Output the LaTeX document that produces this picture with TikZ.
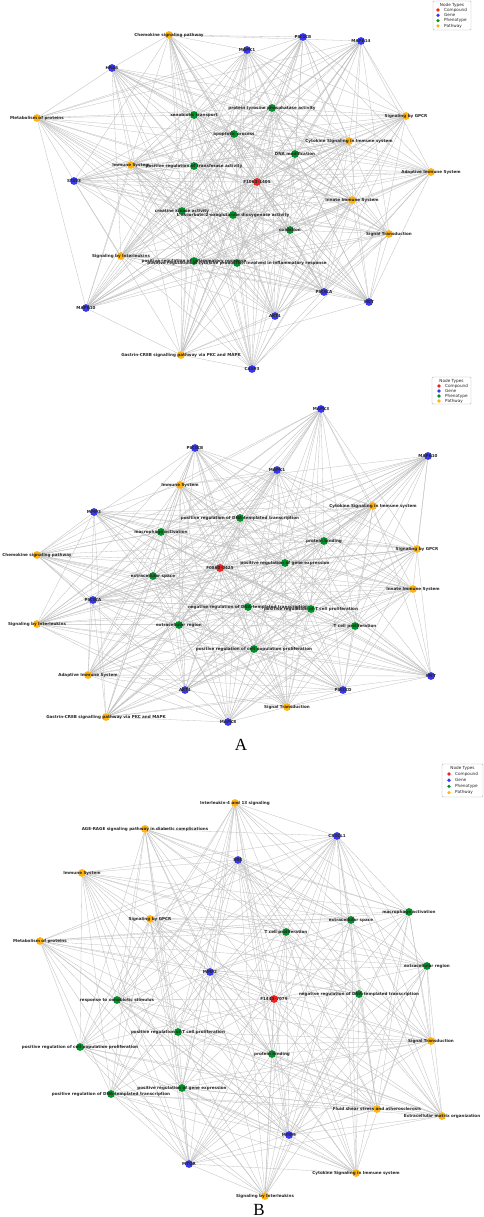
\documentclass[tikz,border=0pt]{standalone}
\usepackage{fontspec}
\newfontfamily\lblfont{DejaVu Sans}
\newfontfamily\capfont{Liberation Serif}
\pgfdeclarelayer{edges}
\pgfdeclarelayer{labels}
\pgfsetlayers{edges,main,labels}
\definecolor{cred}{RGB}{235,35,35}
\definecolor{cblue}{RGB}{55,55,245}
\definecolor{cgreen}{RGB}{0,145,40}
\definecolor{corange}{RGB}{255,180,20}
\definecolor{cedge}{RGB}{190,190,190}
\tikzset{
  base/.style={circle,minimum size=7.8pt,inner sep=0pt,draw=none},
  cpd/.style={base,fill=cred},
  gene/.style={base,fill=cblue},
  phen/.style={base,fill=cgreen},
  pway/.style={base,fill=corange},
  lbl/.style={font=\lblfont\fontsize{4.1}{4.6}\selectfont\bfseries,text=black!85,inner sep=0pt},
  edge/.style={draw=cedge,line width=0.3pt},
  legbox/.style={draw=black!30,fill=white,rounded corners=1pt,line width=0.4pt},
  legtxt/.style={font=\lblfont\fontsize{4.2}{4.6}\selectfont,inner sep=0pt,anchor=west,text=black!85},
  legmark/.style={circle,minimum size=3.6pt,inner sep=0pt,draw=none},
  capl/.style={font=\capfont\fontsize{17}{17}\selectfont,inner sep=0pt}
}
\newcommand\nd[4]{\node[#1] (#2) at (#3) {};%
  \begin{pgfonlayer}{labels}\node[lbl] (#2l) at (#2.center) {#4};\end{pgfonlayer}}
\newcommand\links[2]{\begin{pgfonlayer}{edges}\foreach \a in {#1}{\foreach \b in {#2}{\draw[edge] (\a) -- (\b);}}\end{pgfonlayer}}
\newcommand\mylegend[9]{%
  \draw[legbox] (#2,#3) rectangle (#4,#5);
  \node[legtxt,anchor=center] (#1t) at ({(#2+#4)/2},{#3+4.2}) {Node Types};
  \node[legmark,fill=cred] (#1m1) at (#8,#6) {};
  \node[legtxt] (#1l1) at (#9,#6) {Compound};
  \node[legmark,fill=cblue] (#1m2) at (#8,{#6+#7}) {};
  \node[legtxt] (#1l2) at (#9,{#6+#7}) {Gene};
  \node[legmark,fill=cgreen] (#1m3) at (#8,{#6+2*#7}) {};
  \node[legtxt] (#1l3) at (#9,{#6+2*#7}) {Phenotype};
  \node[legmark,fill=corange] (#1m4) at (#8,{#6+3*#7}) {};
  \node[legtxt] (#1l4) at (#9,{#6+3*#7}) {Pathway};
}
\begin{document}
\begin{tikzpicture}[x=1pt,y=-1pt]
\useasboundingbox (0,0) rectangle (484,1217);
\begin{pgfonlayer}{edges}\fill[white] (0,0) rectangle (484,1217);\end{pgfonlayer}

% ================= TOP PANEL =================
\nd{cpd}{tC}{257,182}{F1063-1405}
\nd{gene}{tg1}{247,50}{MAPK1}
\nd{gene}{tg2}{303,37}{PIK3CB}
\nd{gene}{tg3}{361,41}{MAPK14}
\nd{gene}{tg4}{112,68}{HRAS}
\nd{gene}{tg5}{74,181}{STAT3}
\nd{gene}{tg6}{86,308}{MAPK10}
\nd{gene}{tg7}{324,292}{PIK3CA}
\nd{gene}{tg8}{369,302}{MET}
\nd{gene}{tg9}{275,316}{AKT1}
\nd{gene}{tg10}{252,369}{CASP3}
\nd{phen}{tp1}{194,115}{xenobiotic transport}
\nd{phen}{tp2}{234,134}{apoptotic process}
\nd{phen}{tp3}{272,108}{protein tyrosine phosphatase activity}
\nd{phen}{tp4}{194,166}{positive regulation of transferase activity}
\nd{phen}{tp5}{295,154}{DNA modification}
\nd{phen}{tp6}{182,211}{creatine kinase activity}
\nd{phen}{tp7}{233,215}{L-ascorbate:2-oxoglutarate dioxygenase activity}
\nd{phen}{tp8}{290,230}{oxidation}
\nd{phen}{tp9}{194,261}{positive regulation of inflammatory response}
\nd{phen}{tp10}{237,263}{positive regulation of cytokine production involved in inflammatory response}
\nd{pway}{tw1}{169,35}{Chemokine signaling pathway}
\nd{pway}{tw2}{37,118}{Metabolism of proteins}
\nd{pway}{tw3}{131,165}{Immune System}
\nd{pway}{tw4}{406,116}{Signaling by GPCR}
\nd{pway}{tw5}{349,141}{Cytokine Signaling in Immune system}
\nd{pway}{tw6}{431,172}{Adaptive Immune System}
\nd{pway}{tw7}{352,200}{Innate Immune System}
\nd{pway}{tw8}{389,234}{Signal Transduction}
\nd{pway}{tw9}{121,256}{Signaling by Interleukins}
\nd{pway}{tw10}{181,355}{Gastrin-CREB signalling pathway via PKC and MAPK}
\links{tC}{tg1,tg2,tg3,tg4,tg5,tg6,tg7,tg8,tg9,tg10,tp1,tp2,tp3,tp4,tp5,tp6,tp7,tp8,tp9,tp10,tw1,tw2,tw3,tw4,tw5,tw6,tw7,tw8,tw9,tw10}
\links{tg1,tg2,tg3,tg4,tg5,tg6,tg7,tg8,tg9,tg10}{tp1,tp2,tp3,tp4,tp5,tp6,tp7,tp8,tp9,tp10,tw1,tw2,tw3,tw4,tw5,tw6,tw7,tw8,tw9,tw10}
\links{tw1,tw2,tw3,tw4,tw5,tw6,tw7,tw8,tw9,tw10}{tp1,tp2,tp3,tp4,tp5,tp6,tp7,tp8,tp9,tp10}
\mylegend{la}{433}{1}{471}{30}{10}{5.3}{438}{444}

% ================= MIDDLE PANEL =================
\nd{cpd}{mC}{220,568}{F0860-0425}
\nd{gene}{mg1}{321,409}{MAPK3}
\nd{gene}{mg2}{195,448}{PIK3CB}
\nd{gene}{mg3}{428,456}{MAPK10}
\nd{gene}{mg4}{277,470}{MAPK1}
\nd{gene}{mg5}{94,512}{MMP3}
\nd{gene}{mg6}{93,600}{PIK3CA}
\nd{gene}{mg7}{185,690}{AKT1}
\nd{gene}{mg8}{431,676}{MET}
\nd{gene}{mg9}{343,690}{PIK3CD}
\nd{gene}{mg10}{228,722}{MAPK8}
\nd{phen}{mp1}{240,518}{positive regulation of DNA-templated transcription}
\nd{phen}{mp2}{161,532}{macrophage activation}
\nd{phen}{mp3}{324,541}{protein binding}
\nd{phen}{mp4}{285,563}{positive regulation of gene expression}
\nd{phen}{mp5}{153,576}{extracellular space}
\nd{phen}{mp6}{179,625}{extracellular region}
\nd{phen}{mp7}{248,607}{negative regulation of DNA-templated transcription}
\nd{phen}{mp8}{311,609}{positive regulation of T cell proliferation}
\nd{phen}{mp9}{355,626}{T cell proliferation}
\nd{phen}{mp10}{254,649}{positive regulation of cell population proliferation}
\nd{pway}{mw1}{180,485}{Immune System}
\nd{pway}{mw2}{373,506}{Cytokine Signaling in Immune system}
\nd{pway}{mw3}{37,555}{Chemokine signaling pathway}
\nd{pway}{mw4}{417,549}{Signaling by GPCR}
\nd{pway}{mw5}{413,589}{Innate Immune System}
\nd{pway}{mw6}{37,624}{Signaling by Interleukins}
\nd{pway}{mw7}{88,675}{Adaptive Immune System}
\nd{pway}{mw8}{287,707}{Signal Transduction}
\nd{pway}{mw9}{106,717}{Gastrin-CREB signalling pathway via PKC and MAPK}
\links{mC}{mg1,mg2,mg3,mg4,mg5,mg6,mg7,mg8,mg9,mg10,mp1,mp2,mp3,mp4,mp5,mp6,mp7,mp8,mp9,mp10,mw1,mw2,mw3,mw4,mw5,mw6,mw7,mw8,mw9}
\links{mg1,mg2,mg3,mg4,mg5,mg6,mg7,mg8,mg9,mg10}{mp1,mp2,mp3,mp4,mp5,mp6,mp7,mp8,mp9,mp10,mw1,mw2,mw3,mw4,mw5,mw6,mw7,mw8,mw9}
\links{mw1,mw2,mw3,mw4,mw5,mw6,mw7,mw8,mw9}{mp1,mp2,mp3,mp4,mp5,mp6,mp7,mp8,mp9,mp10}
\mylegend{lb}{432}{377}{471}{404}{386}{5}{439}{445}
\node[capl] (capA) at (241,745) {A};

% ================= BOTTOM PANEL =================
\nd{cpd}{bC}{274,999}{F1443-7079}
\nd{gene}{bg1}{337,836}{CX3CL1}
\nd{gene}{bg2}{238,860}{SRC}
\nd{gene}{bg3}{210,972}{MMP2}
\nd{gene}{bg4}{289,1135}{MMP9}
\nd{gene}{bg5}{189,1164}{MTOR}
\nd{phen}{bp1}{409,912}{macrophage activation}
\nd{phen}{bp2}{351,920}{extracellular space}
\nd{phen}{bp3}{286,932}{T cell proliferation}
\nd{phen}{bp4}{427,966}{extracellular region}
\nd{phen}{bp5}{117,1000}{response to xenobiotic stimulus}
\nd{phen}{bp6}{359,994}{negative regulation of DNA-templated transcription}
\nd{phen}{bp7}{178,1032}{positive regulation of T cell proliferation}
\nd{phen}{bp8}{80,1047}{positive regulation of cell population proliferation}
\nd{phen}{bp9}{272,1054}{protein binding}
\nd{phen}{bp10}{182,1088}{positive regulation of gene expression}
\nd{phen}{bp11}{111,1094}{positive regulation of DNA-templated transcription}
\nd{pway}{bw1}{235,803}{Interleukin-4 and 13 signaling}
\nd{pway}{bw2}{145,829}{AGE-RAGE signaling pathway in diabetic complications}
\nd{pway}{bw3}{82,873}{Immune System}
\nd{pway}{bw4}{150,919}{Signaling by GPCR}
\nd{pway}{bw5}{40,941}{Metabolism of proteins}
\nd{pway}{bw6}{431,1041}{Signal Transduction}
\nd{pway}{bw7}{377,1109}{Fluid shear stress and atherosclerosis}
\nd{pway}{bw8}{442,1116}{Extracellular matrix organization}
\nd{pway}{bw9}{356,1173}{Cytokine Signaling in Immune system}
\nd{pway}{bw10}{265,1196}{Signaling by Interleukins}
\links{bC}{bg1,bg2,bg3,bg4,bg5,bp1,bp2,bp3,bp4,bp5,bp6,bp7,bp8,bp9,bp10,bp11,bw1,bw2,bw3,bw4,bw5,bw6,bw7,bw8,bw9,bw10}
\links{bg1,bg2,bg3,bg4,bg5}{bp1,bp2,bp3,bp4,bp5,bp6,bp7,bp8,bp9,bp10,bp11,bw1,bw2,bw3,bw4,bw5,bw6,bw7,bw8,bw9,bw10}
\links{bw1,bw2,bw3,bw4,bw5,bw6,bw7,bw8,bw9,bw10}{bp1,bp2,bp3,bp4,bp5,bp6,bp7,bp8,bp9,bp10,bp11}
\mylegend{lc}{442}{764}{483}{797}{774}{6.2}{449}{455}
\node[capl] (capB) at (259,1210) {B};
\end{tikzpicture}
\end{document}
